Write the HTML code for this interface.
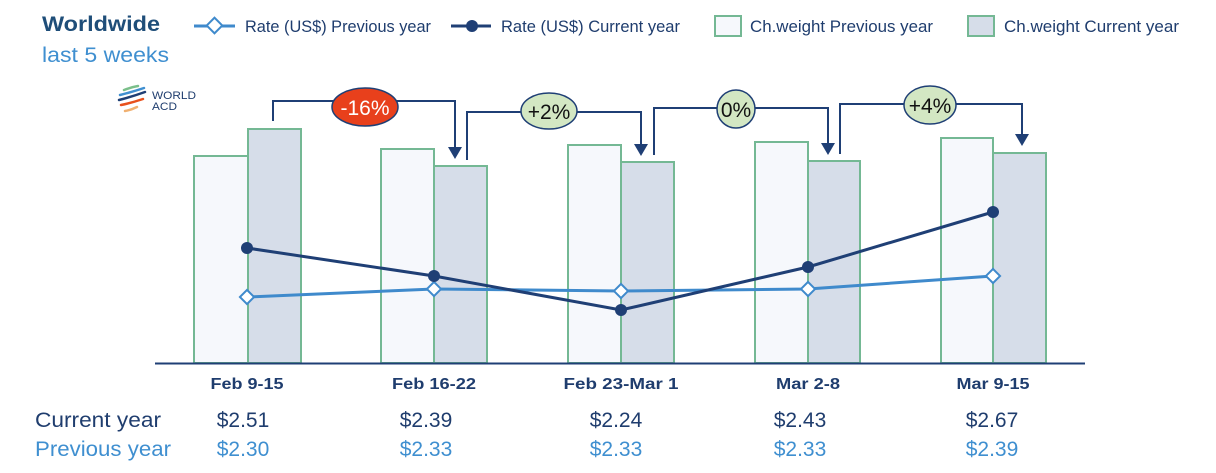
<!DOCTYPE html>
<html><head><meta charset="utf-8"><style>
html,body{margin:0;padding:0;background:#fff;width:1216px;height:473px;overflow:hidden}
svg{display:block}
text{font-family:"Liberation Sans",sans-serif}
</style></head><body>
<svg width="1216" height="473" viewBox="0 0 1216 473" xmlns="http://www.w3.org/2000/svg">
<text x="42" y="31" font-size="21" font-weight="bold" fill="#1f4e79" textLength="118" lengthAdjust="spacingAndGlyphs">Worldwide</text>
<text x="42" y="62" font-size="21" fill="#3f8fd0" textLength="127" lengthAdjust="spacingAndGlyphs">last 5 weeks</text>
<!-- legend -->
<line x1="194" y1="26" x2="235" y2="26" stroke="#3f8acc" stroke-width="3"/>
<rect x="209" y="20" width="11" height="11" transform="rotate(45 214.5 25.5)" fill="#fff" stroke="#3f8acc" stroke-width="2"/>
<text x="245" y="32" font-size="17" fill="#1f3d6e" textLength="186" lengthAdjust="spacingAndGlyphs">Rate (US$) Previous year</text>
<line x1="451" y1="26" x2="491" y2="26" stroke="#1f3f75" stroke-width="3"/>
<circle cx="472" cy="26" r="6" fill="#1f3f75"/>
<text x="501" y="32" font-size="17" fill="#1f3d6e" textLength="179" lengthAdjust="spacingAndGlyphs">Rate (US$) Current year</text>
<rect x="715" y="16" width="26" height="20" fill="#f6f8fc" stroke="#74b894" stroke-width="2"/>
<text x="750" y="32" font-size="17" fill="#1f3d6e" textLength="183" lengthAdjust="spacingAndGlyphs">Ch.weight Previous year</text>
<rect x="968" y="16" width="26" height="20" fill="#d6dde9" stroke="#74b894" stroke-width="2"/>
<text x="1004" y="32" font-size="17" fill="#1f3d6e" textLength="175" lengthAdjust="spacingAndGlyphs">Ch.weight Current year</text>
<!-- logo -->
<g fill="none" stroke-width="2.5" stroke-linecap="round">
<path d="M124 90 q8 -3 14 -4" stroke="#7bbf8a"/>
<path d="M120 95 q12 -3 24 -7" stroke="#3f8fd0"/>
<path d="M119 100 q12 -3 26 -8" stroke="#1f3f75"/>
<path d="M121 105 q10 -2 22 -6" stroke="#e8501c"/>
<path d="M125 111 q6 -1 12 -4" stroke="#f0b070"/>
</g>
<text x="152" y="99" font-size="11" fill="#1f3d6e" textLength="44" lengthAdjust="spacingAndGlyphs">WORLD</text>
<text x="152" y="110" font-size="11" fill="#1f3d6e" textLength="25" lengthAdjust="spacingAndGlyphs">ACD</text>
<!-- bars -->
<g stroke="#74b894" stroke-width="2">
<rect x="194" y="156" width="54" height="207" fill="#f6f8fc"/>
<rect x="248" y="129" width="53" height="234" fill="#d6dde9"/>
<rect x="381" y="149" width="53" height="214" fill="#f6f8fc"/>
<rect x="434" y="166" width="53" height="197" fill="#d6dde9"/>
<rect x="568" y="145" width="53" height="218" fill="#f6f8fc"/>
<rect x="621" y="162" width="53" height="201" fill="#d6dde9"/>
<rect x="755" y="142" width="53" height="221" fill="#f6f8fc"/>
<rect x="808" y="161" width="52" height="202" fill="#d6dde9"/>
<rect x="941" y="138" width="52" height="225" fill="#f6f8fc"/>
<rect x="993" y="153" width="53" height="210" fill="#d6dde9"/>
</g>
<line x1="155" y1="363.5" x2="1085" y2="363.5" stroke="#1f3f75" stroke-width="2"/>
<!-- connectors -->
<g fill="none" stroke="#1f3f75" stroke-width="2">
<polyline points="273,121 273,101 455,101 455,148"/>
<polyline points="467,160 467,112 641,112 641,145"/>
<polyline points="654,155 654,108 828,108 828,144"/>
<polyline points="840,154 840,104 1022,104 1022,135"/>
</g>
<g fill="#1f3f75">
<polygon points="448,147 462,147 455,159"/>
<polygon points="634,144 648,144 641,156"/>
<polygon points="821,143 835,143 828,155"/>
<polygon points="1015,134 1029,134 1022,146"/>
</g>
<g stroke="#1f3f75" stroke-width="1.5">
<ellipse cx="365" cy="107" rx="33" ry="19" fill="#e8401c"/>
<ellipse cx="549" cy="111" rx="28" ry="18" fill="#d3e7c3"/>
<ellipse cx="736" cy="109" rx="19" ry="19" fill="#d3e7c3"/>
<ellipse cx="930" cy="105" rx="26" ry="19" fill="#d3e7c3"/>
</g>
<g font-size="21" text-anchor="middle">
<text x="365" y="115" fill="#fff">-16%</text>
<text x="549" y="119" fill="#111">+2%</text>
<text x="736" y="117" fill="#111">0%</text>
<text x="930" y="113" fill="#111">+4%</text>
</g>
<!-- lines -->
<polyline points="247,297 434,289 621,291 808,289 993,276" fill="none" stroke="#3f8acc" stroke-width="3"/>
<g fill="#fff" stroke="#3f8acc" stroke-width="2">
<rect x="242" y="292" width="10" height="10" transform="rotate(45 247 297)"/>
<rect x="429" y="284" width="10" height="10" transform="rotate(45 434 289)"/>
<rect x="616" y="286" width="10" height="10" transform="rotate(45 621 291)"/>
<rect x="803" y="284" width="10" height="10" transform="rotate(45 808 289)"/>
<rect x="988" y="271" width="10" height="10" transform="rotate(45 993 276)"/>
</g>
<polyline points="247,248 434,276 621,310 808,267 993,212" fill="none" stroke="#1f3f75" stroke-width="3"/>
<g fill="#1f3f75">
<circle cx="247" cy="248" r="6"/><circle cx="434" cy="276" r="6"/><circle cx="621" cy="310" r="6"/><circle cx="808" cy="267" r="6"/><circle cx="993" cy="212" r="6"/>
</g>
<!-- x labels -->
<g font-size="16" font-weight="bold" fill="#1f3d6e" text-anchor="middle">
<text x="247" y="389" textLength="73" lengthAdjust="spacingAndGlyphs">Feb 9-15</text>
<text x="434" y="389" textLength="84" lengthAdjust="spacingAndGlyphs">Feb 16-22</text>
<text x="621" y="389" textLength="115" lengthAdjust="spacingAndGlyphs">Feb 23-Mar 1</text>
<text x="808" y="389" textLength="64" lengthAdjust="spacingAndGlyphs">Mar 2-8</text>
<text x="993" y="389" textLength="73" lengthAdjust="spacingAndGlyphs">Mar 9-15</text>
</g>
<text x="35" y="427" font-size="21" fill="#1f3d6e" textLength="126" lengthAdjust="spacingAndGlyphs">Current year</text>
<text x="35" y="456" font-size="21" fill="#3f8fd0" textLength="136" lengthAdjust="spacingAndGlyphs">Previous year</text>
<g font-size="21" fill="#1f3d6e" text-anchor="middle">
<text x="243" y="427">$2.51</text><text x="426" y="427">$2.39</text><text x="616" y="427">$2.24</text><text x="800" y="427">$2.43</text><text x="992" y="427">$2.67</text>
</g>
<g font-size="21" fill="#3f8fd0" text-anchor="middle">
<text x="243" y="456">$2.30</text><text x="426" y="456">$2.33</text><text x="616" y="456">$2.33</text><text x="800" y="456">$2.33</text><text x="992" y="456">$2.39</text>
</g>
</svg>
</body></html>
